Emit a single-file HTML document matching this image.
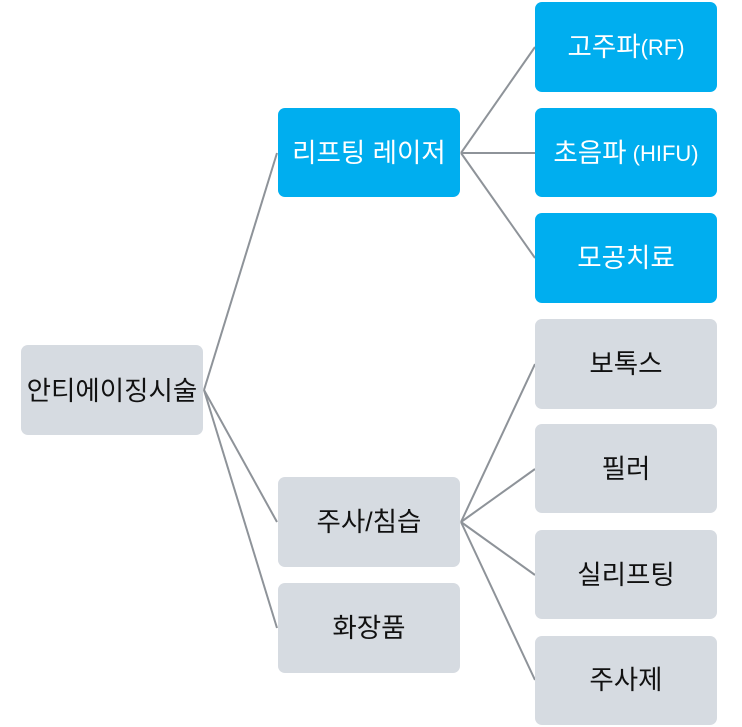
<!DOCTYPE html>
<html>
<head>
<meta charset="utf-8">
<style>
html,body{margin:0;padding:0;background:#fff;}
body{width:742px;height:727px;overflow:hidden;position:relative;}
svg{position:absolute;left:0;top:0;}
text{font-family:"Liberation Sans","Noto Sans CJK KR",sans-serif;font-size:26.5px;text-anchor:middle;dominant-baseline:central;}
.lat{font-size:22px;}
.b{fill:#00aeef;}
.g{fill:#d6dbe1;}
.tw{fill:#ffffff;}
.tb{fill:#111111;}
line{stroke:#8e9399;stroke-width:2;}
</style>
</head>
<body>
<svg width="742" height="727" viewBox="0 0 742 727">
  <!-- connectors -->
  <line x1="204" y1="390" x2="277" y2="153"/>
  <line x1="204" y1="390" x2="277" y2="522"/>
  <line x1="204" y1="390" x2="277" y2="628"/>
  <line x1="461" y1="153" x2="535" y2="47"/>
  <line x1="461" y1="153" x2="535" y2="153"/>
  <line x1="461" y1="153" x2="535" y2="258"/>
  <line x1="461" y1="522" x2="535" y2="364"/>
  <line x1="461" y1="522" x2="535" y2="469"/>
  <line x1="461" y1="522" x2="535" y2="575"/>
  <line x1="461" y1="522" x2="535" y2="680"/>

  <!-- root -->
  <rect class="g" x="21" y="345" width="182" height="90" rx="7"/>
  <text class="tb" x="112" y="391">안티에이징시술</text>

  <!-- level 1 -->
  <rect class="b" x="278" y="108" width="182" height="89" rx="7"/>
  <text class="tw" x="369" y="153">리프팅 레이저</text>
  <rect class="g" x="278" y="477" width="182" height="90" rx="7"/>
  <text class="tb" x="369" y="522">주사/침습</text>
  <rect class="g" x="278" y="583" width="182" height="90" rx="7"/>
  <text class="tb" x="369" y="628">화장품</text>

  <!-- level 2 blue -->
  <rect class="b" x="535" y="2" width="182" height="90" rx="7"/>
  <text class="tw" x="626" y="47">고주파<tspan class="lat">(RF)</tspan></text>
  <rect class="b" x="535" y="108" width="182" height="89" rx="7"/>
  <text class="tw" x="626" y="153">초음파<tspan class="lat"> (HIFU)</tspan></text>
  <rect class="b" x="535" y="213" width="182" height="90" rx="7"/>
  <text class="tw" x="626" y="258">모공치료</text>

  <!-- level 2 gray -->
  <rect class="g" x="535" y="319" width="182" height="90" rx="7"/>
  <text class="tb" x="626" y="364">보톡스</text>
  <rect class="g" x="535" y="424" width="182" height="89" rx="7"/>
  <text class="tb" x="626" y="469">필러</text>
  <rect class="g" x="535" y="530" width="182" height="89" rx="7"/>
  <text class="tb" x="626" y="575">실리프팅</text>
  <rect class="g" x="535" y="636" width="182" height="89" rx="7"/>
  <text class="tb" x="626" y="680">주사제</text>
</svg>
</body>
</html>
